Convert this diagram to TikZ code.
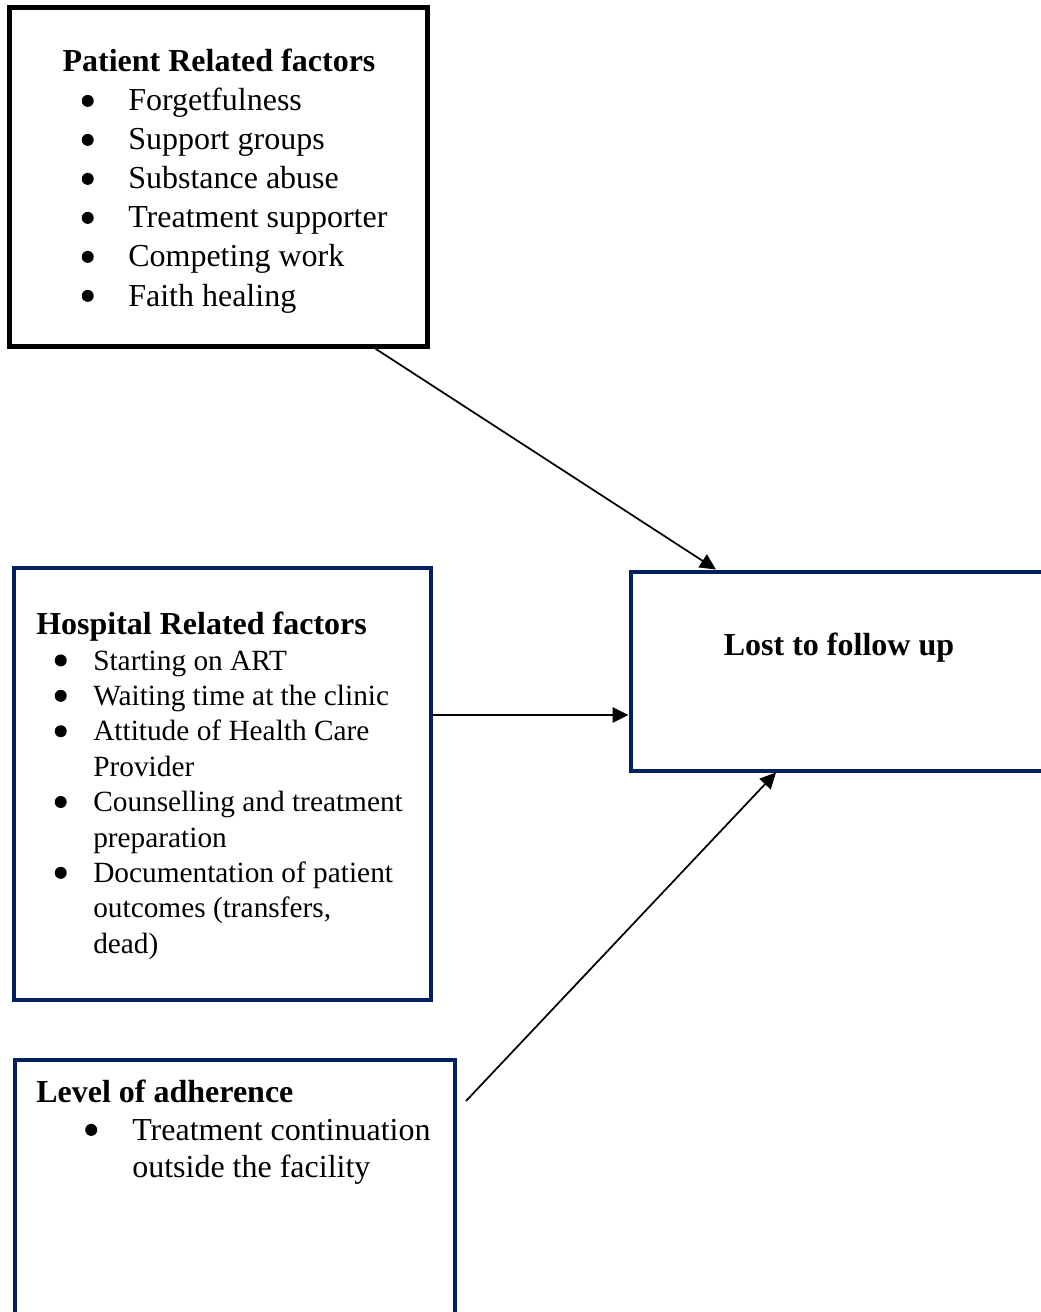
\documentclass[tikz,border=0pt]{standalone}
\usepackage{fontspec}
\setmainfont{Liberation Serif}
\usetikzlibrary{arrows.meta,calc,fit}
\definecolor{navy}{RGB}{0,32,96}

\begin{document}
\begin{tikzpicture}[x=0.75pt,y=-0.75pt,>={Triangle[length=12pt,width=11.5pt]},
  box/.style={draw=navy,line width=3pt,inner sep=0pt},
  txt/.style={anchor=base west,inner sep=0pt,font=\fontsize{24}{28}\selectfont},
  head/.style={txt,font=\fontsize{24}{28}\selectfont\bfseries},
  dot/.style={circle,fill=black,inner sep=0pt,minimum size=9pt,yshift=2pt},
  bulitem/.style={txt,execute at begin node=\strut,label={[dot,label distance=#1]west:}},
  smallitem/.style={txt,font=\fontsize{22}{26}\selectfont},
  link/.style={->,line width=1.3pt}]
 \useasboundingbox (0,0) rectangle (1041,1312);
 \clip (0,0) rectangle (1041,1312);
 % boxes
 \node[box,draw=black,line width=3.5pt,fit={(9.5,7.5) (427.5,346.5)}] (patient) {};
 \node[box,fit={(14,567.5) (430.5,999.5)}] (hospital) {};
 \node[box,fit={(630.5,571.5) (1060,770.5)}] (lost) {};
 \node[box,fit={(14.5,1060) (454.5,1330)}] (level) {};
 % patient related factors
 \node[head,anchor=base] (ptitle) at (219,72) {Patient Related factors};
 \node[bulitem=25.5pt] (p1) at (128,111) {Forgetfulness};
 \node[bulitem=25.5pt] (p2) at (128,150) {Support groups};
 \node[bulitem=25.5pt] (p3) at (128,189) {Substance abuse};
 \node[bulitem=25.5pt] (p4) at (128,228) {Treatment supporter};
 \node[bulitem=25.5pt] (p5) at (128,267) {Competing work};
 \node[bulitem=25.5pt] (p6) at (128,306) {Faith healing};
 % hospital related factors
 \node[head] (htitle) at (36,634) {Hospital Related factors};
 \node[bulitem=19.5pt,smallitem] (h1) at (93,670) {Starting on ART};
 \node[bulitem=19.5pt,smallitem] (h2) at (93,705.4) {Waiting time at the clinic};
 \node[bulitem=19.5pt,smallitem] (h3) at (93,740.8) {Attitude of Health Care};
 \node[smallitem] (h3b) at (93,776.2) {Provider};
 \node[bulitem=19.5pt,smallitem] (h4) at (93,811.6) {Counselling and treatment};
 \node[smallitem] (h4b) at (93,847) {preparation};
 \node[bulitem=19.5pt,smallitem] (h5) at (93,882.4) {Documentation of patient};
 \node[smallitem] (h5b) at (93,917.8) {outcomes (transfers,};
 \node[smallitem] (h5c) at (93,953.2) {dead)};
 % outcome
 \node[head,anchor=base] (ltitle) at (839,655) {Lost to follow up};
 % level of adherence
 \node[head] (atitle) at (36,1102) {Level of adherence};
 \node[bulitem=25.9pt] (a1) at (132,1140) {Treatment continuation};
 \node[txt] (a1b) at (132,1177) {outside the facility};
 % arrows
 \coordinate (pout) at ($(patient.south west)+(368.5,0)$);
 \coordinate (ltop) at ($(lost.north west)+(87.5,0)$);
 \coordinate (lside) at ($(lost.north west)+(0,145.5)$);
 \coordinate (lbot) at ($(lost.south west)+(147.5,0)$);
 \coordinate (adh) at (466,1101);
 \draw[link] (pout) -- (ltop);
 \draw[link] (hospital.east |- lside) -- (lside);
 \draw[link] (adh) -- (lbot);
\end{tikzpicture}
\end{document}
